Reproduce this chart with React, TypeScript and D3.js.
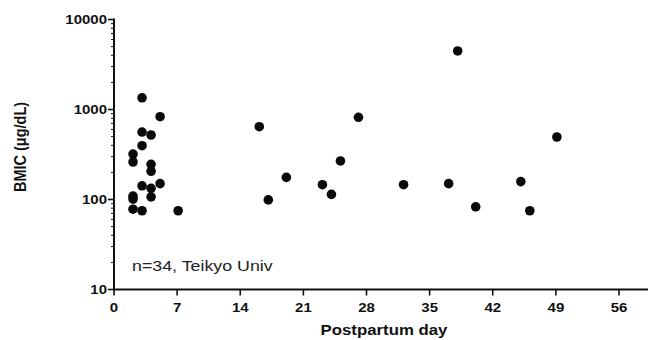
import * as d3 from "d3";

// postpartum day of each sample and its BMIC value (ug/dL)
const days = [
  2, 2, 2, 2, 2,
  3, 3, 3, 3, 3,
  4, 4, 4, 4, 4,
  5, 5, 7,
  16, 17, 19, 23, 24, 25, 27, 32, 37, 38, 40, 45, 46, 49,
];
const bmic = [
  320, 261, 109, 101, 78,
  1350, 562, 396, 142, 75,
  521, 246, 206, 133, 107,
  832, 150, 75,
  644, 99, 176, 146, 114, 268, 819, 146, 150, 4470, 83, 158, 75, 495,
];
const xTicks = [0, 7, 14, 21, 28, 35, 42, 49, 56];
const yTicks = [10, 100, 1000, 10000];

const W = 648;
const H = 340;
const SX = 1.2; // the source image is stretched a bit sideways

export default function App() {
  const x = d3.scaleLinear().domain([0, 56]).range([114, 619]);
  const y = d3.scaleLog().domain([10, 10000]).range([289.5, 19.5]);

  // minor log ticks: 2..9 in every decade
  const minor: number[] = [];
  for (let dec = 10; dec < 10000; dec *= 10) {
    for (let k = 2; k <= 9; k++) minor.push(dec * k);
  }

  const font = "Liberation Sans, Arial, Helvetica, sans-serif";

  return (
    <svg
      width={W}
      height={H}
      style={{ position: "absolute", left: 0, top: 0, background: "#fff" }}
    >
      {/* points */}
      {days.map((d, i) => (
        <circle key={i} cx={x(d) + 1} cy={y(bmic[i])} r={4.8} fill="#0a0a0a" />
      ))}

      {/* y axis */}
      <line x1={x(0)} x2={x(0)} y1={y(10000) - 1} y2={y(10) + 1} stroke="#111" strokeWidth={2} />
      {minor.map((v) => (
        <line key={v} x1={x(0) - 3} x2={x(0)} y1={y(v)} y2={y(v)} stroke="#111" strokeWidth={1} />
      ))}
      {yTicks.map((v) => (
        <g key={v}>
          <line x1={x(0) - 6} x2={x(0)} y1={y(v)} y2={y(v)} stroke="#111" strokeWidth={1.6} />
          <text
            transform={`translate(${x(0) - 7},${y(v) + 4.5}) scale(${SX},1)`}
            textAnchor="end"
            fontFamily={font}
            fontWeight="bold"
            fontSize={12.5}
            fill="#111"
          >
            {v}
          </text>
        </g>
      ))}
      <text
        transform={`translate(26,147) scale(${SX},1) rotate(-90)`}
        textAnchor="middle"
        fontFamily={font}
        fontWeight="bold"
        fontSize={14.5}
        fill="#111"
      >
        BMIC (μg/dL)
      </text>

      {/* x axis */}
      <line x1={x(0) - 1} x2={W} y1={y(10)} y2={y(10)} stroke="#111" strokeWidth={2} />
      {xTicks.map((t) => (
        <g key={t}>
          <line x1={x(t)} x2={x(t)} y1={y(10)} y2={y(10) + 6} stroke="#111" strokeWidth={1.6} />
          <text
            transform={`translate(${x(t)},${y(10) + 22}) scale(${SX},1)`}
            textAnchor="middle"
            fontFamily={font}
            fontWeight="bold"
            fontSize={12.5}
            fill="#111"
          >
            {t}
          </text>
        </g>
      ))}
      <text
        transform={`translate(384,335) scale(${SX},1)`}
        textAnchor="middle"
        fontFamily={font}
        fontWeight="bold"
        fontSize={14}
        fill="#111"
      >
        Postpartum day
      </text>

      <text
        transform={`translate(132,271) scale(1.15,1)`}
        fontFamily={font}
        fontSize={15.5}
        fill="#222"
      >
        n=34, Teikyo Univ
      </text>
    </svg>
  );
}
